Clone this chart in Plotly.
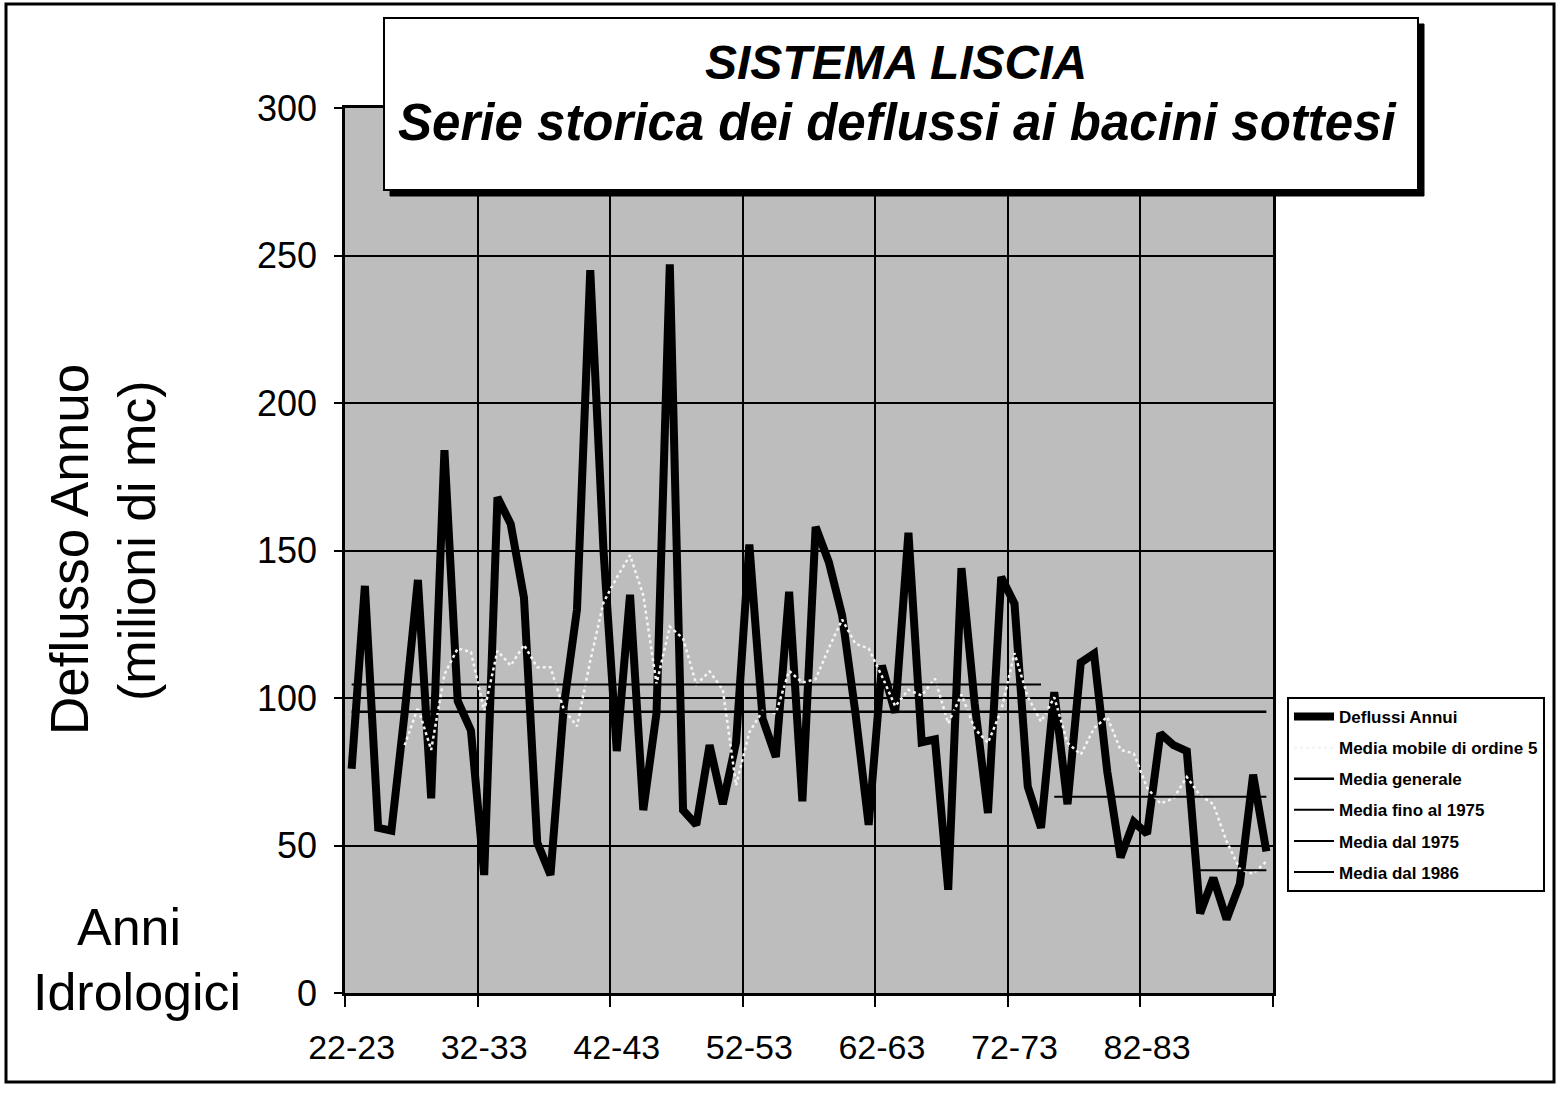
import plotly.graph_objects as go

# ---------------- data ----------------
years = [f"{y % 100:02d}-{(y + 1) % 100:02d}" for y in range(1922, 1992)]  # 22-23 ... 91-92
deflussi_annui = [76, 138, 56, 55, 95, 140, 66, 184, 99, 89,
                  40, 168, 159, 134, 51, 40, 97, 130, 245, 150,
                  82, 135, 62, 95, 247, 62, 57, 84, 64, 85,
                  152, 93, 80, 136, 65, 158, 146, 128, 95, 57,
                  111, 95, 156, 85, 86, 35, 144, 98, 61, 141,
                  132, 70, 56, 102, 64, 112, 115, 75, 46, 58,
                  54, 88, 84, 82, 27, 39, 25, 37, 74, 48]
# 5-period moving average (trailing), values as drawn in the chart
media_mobile_5 = [None, None, None, None,
                  84.0, 96.8, 82.4, 108.0, 116.8, 115.6, 95.6, 116.0, 111.0, 118.0,
                  110.4, 110.4, 96.2, 90.4, 112.6, 132.4, 140.8, 148.4, 134.8, 104.8,
                  124.2, 120.2, 104.6, 109.0, 102.8, 70.4, 88.4, 95.6, 94.8, 109.2,
                  105.2, 106.4, 117.0, 126.6, 118.4, 116.8, 107.4, 97.2, 102.8, 100.8,
                  106.6, 91.4, 101.2, 89.6, 84.8, 95.8, 115.2, 100.4, 92.0, 100.2,
                  84.8, 80.8, 89.8, 93.6, 82.4, 81.2, 69.6, 64.2, 66.0, 73.2,
                  67.0, 64.0, 51.4, 42.0, 40.4, 44.6]
media_generale = 95.3
media_fino_1975 = 104.6
media_dal_1975 = 66.5
media_dal_1986 = 41.6
idx_1975 = 53   # 75-76
idx_1986 = 64   # 86-87
tick_labels = ["22-23", "32-33", "42-43", "52-53", "62-63", "72-73", "82-83"]

n = len(years)
xs = list(range(n))
FONT = "Liberation Sans, Arial, sans-serif"

fig = go.Figure()
fig.add_trace(go.Scatter(x=xs, y=deflussi_annui, mode="lines", name="Deflussi Annui",
                         legendgroup="a", line=dict(color="black", width=8)))
fig.add_trace(go.Scatter(x=xs, y=media_mobile_5, mode="lines", name="Media mobile di ordine 5",
                         legendgroup="b", line=dict(color="#f4f4f4", width=2.5, dash="dot")))
fig.add_trace(go.Scatter(x=xs, y=[media_generale] * n, mode="lines", name="Media generale",
                         legendgroup="c", line=dict(color="black", width=2.5)))
fig.add_trace(go.Scatter(x=xs[:idx_1975], y=[media_fino_1975] * idx_1975, mode="lines",
                         name="Media fino al 1975", legendgroup="d",
                         line=dict(color="black", width=2)))
fig.add_trace(go.Scatter(x=xs[idx_1975:], y=[media_dal_1975] * (n - idx_1975), mode="lines",
                         name="Media dal 1975", legendgroup="e",
                         line=dict(color="black", width=2)))
fig.add_trace(go.Scatter(x=xs[idx_1986:], y=[media_dal_1986] * (n - idx_1986), mode="lines",
                         name="Media dal 1986", legendgroup="f",
                         line=dict(color="black", width=2)))

W, H = 1560, 1093
L, R, T, B = 345, 1560 - 1273, 108, 1093 - 993
pw, ph = W - L - R, H - T - B


def px(xp):
    return (xp - L) / pw


def py(yp):
    return (H - B - yp) / ph


shapes = [
    # outer frame
    dict(type="rect", xref="paper", yref="paper", x0=px(6), x1=px(1554), y0=py(1082), y1=py(4),
         line=dict(color="black", width=3), fillcolor="rgba(0,0,0,0)", layer="above"),
    # title box shadow
    dict(type="rect", xref="paper", yref="paper", x0=px(390), x1=px(1424), y0=py(196), y1=py(24),
         line=dict(color="black", width=1), fillcolor="black", layer="above"),
    # title box
    dict(type="rect", xref="paper", yref="paper", x0=px(384), x1=px(1418), y0=py(190), y1=py(18),
         line=dict(color="black", width=2), fillcolor="white", layer="above"),
]

annotations = [
    dict(text="<b><i>SISTEMA LISCIA</i></b>", xref="paper", yref="paper", x=px(896), y=py(63),
         xanchor="center", yanchor="middle", showarrow=False,
         font=dict(family=FONT, size=48, color="black")),
    dict(text="<b><i>Serie storica dei deflussi ai bacini sottesi</i></b>", xref="paper", yref="paper",
         x=px(898), y=py(123), xanchor="center", yanchor="middle", showarrow=False,
         font=dict(family=FONT, size=51, color="black")),
    dict(text="Deflusso Annuo", xref="paper", yref="paper", x=px(69), y=py(550), textangle=-90,
         xanchor="center", yanchor="middle", showarrow=False,
         font=dict(family=FONT, size=53, color="black")),
    dict(text="(milioni di mc)", xref="paper", yref="paper", x=px(137), y=py(541), textangle=-90,
         xanchor="center", yanchor="middle", showarrow=False,
         font=dict(family=FONT, size=52, color="black")),
    dict(text="Anni", xref="paper", yref="paper", x=px(129), y=py(927),
         xanchor="center", yanchor="middle", showarrow=False,
         font=dict(family=FONT, size=52, color="black")),
    dict(text="Idrologici", xref="paper", yref="paper", x=px(137), y=py(992),
         xanchor="center", yanchor="middle", showarrow=False,
         font=dict(family=FONT, size=52, color="black")),
]

fig.update_layout(
    width=W, height=H,
    margin=dict(l=L, r=R, t=T, b=B, pad=0),
    paper_bgcolor="white",
    plot_bgcolor="#bdbdbd",
    font=dict(family=FONT, color="black"),
    showlegend=True,
    legend=dict(x=px(1287), y=py(697), xanchor="left", yanchor="top",
                bgcolor="white", bordercolor="black", borderwidth=2,
                font=dict(family=FONT, size=17, color="black", weight="bold"),
                traceorder="grouped", tracegroupgap=6, itemwidth=40),
    shapes=shapes,
    annotations=annotations,
    xaxis=dict(range=[-0.5, n - 0.5], tickmode="array",
               tickvals=[0, 10, 20, 30, 40, 50, 60], ticktext=tick_labels,
               ticks="", showgrid=False, zeroline=False,
               showline=True, linecolor="black", linewidth=2.5, mirror=True,
               tickfont=dict(family=FONT, size=34, color="black"),
               ticklabelstandoff=22,
               minor=dict(tickmode="array",
                          tickvals=[-0.5, 9.5, 19.5, 29.5, 39.5, 49.5, 59.5, 69.5],
                          ticks="outside", ticklen=11, tickwidth=2, tickcolor="black",
                          showgrid=True, gridcolor="black", gridwidth=1.5)),
    yaxis=dict(range=[0, 300], tickmode="linear", tick0=0, dtick=50,
               ticks="outside", ticklen=8, tickwidth=2, tickcolor="black",
               showgrid=True, gridcolor="black", gridwidth=1.5, zeroline=False,
               showline=True, linecolor="black", linewidth=2.5, mirror=True,
               tickfont=dict(family=FONT, size=36, color="black"),
               ticklabelstandoff=10),
)

fig.write_html("out.html", config={"displayModeBar": False},
               post_script="document.body.style.margin='0';")
